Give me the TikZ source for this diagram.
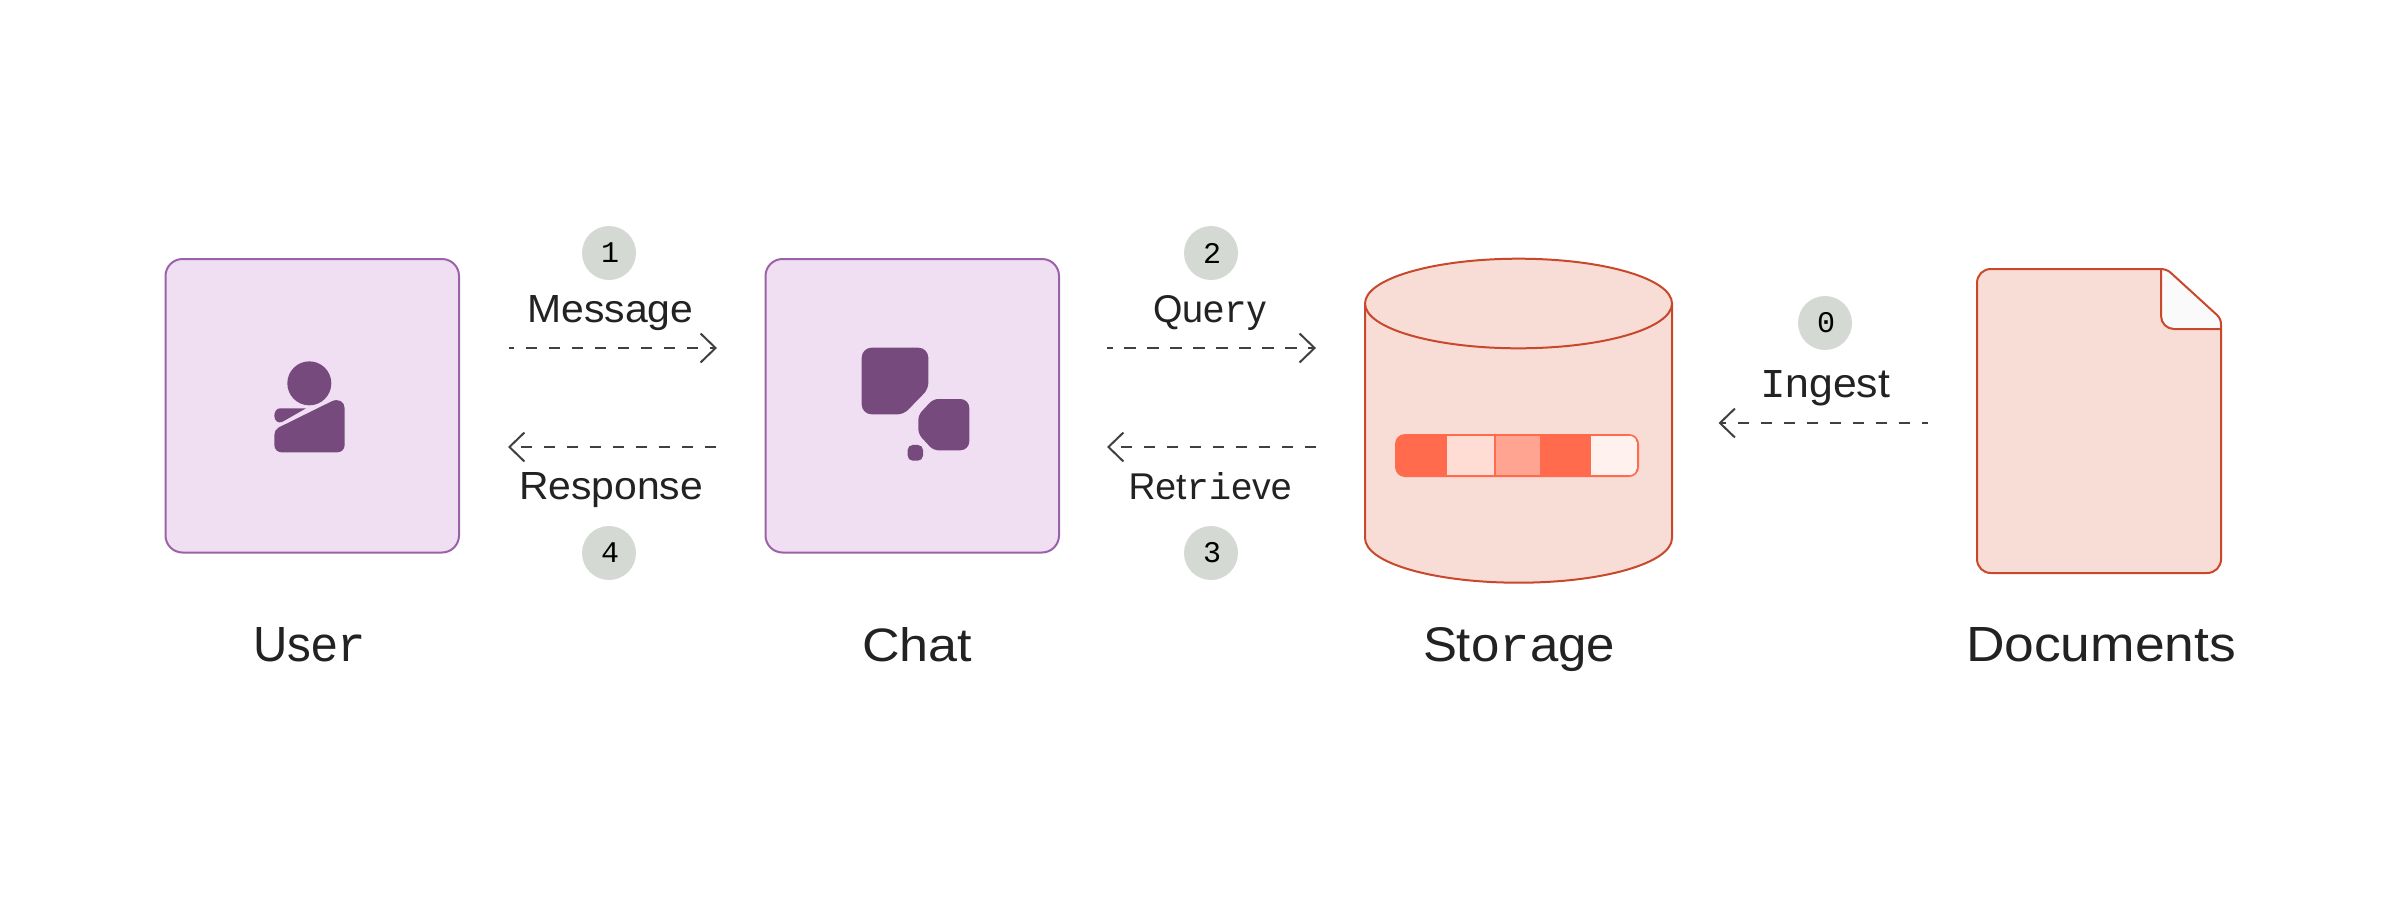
\documentclass[tikz,border=0pt]{standalone}
\usepackage{graphicx}
\usepackage{fontspec}
\setmainfont{Liberation Sans}
\newfontfamily\mn{Liberation Mono}
\usetikzlibrary{arrows.meta}
\definecolor{purplefill}{HTML}{F0DFF2}
\definecolor{purpleedge}{HTML}{9B62A8}
\definecolor{purpleicon}{HTML}{774A7E}
\definecolor{redfill}{HTML}{F7DDD6}
\definecolor{rededge}{HTML}{C9472B}
\definecolor{barhot}{HTML}{FF6B4C}
\definecolor{barlight}{HTML}{FFDCD4}
\definecolor{barmid}{HTML}{FFA491}
\definecolor{barpale}{HTML}{FFF1EE}
\definecolor{badgefill}{HTML}{D4D9D3}
\definecolor{inktext}{HTML}{222222}
\definecolor{flowline}{HTML}{404040}
\tikzset{
  panel/.style={draw=purpleedge,fill=purplefill,line width=2pt,rounded corners=17pt,minimum width=293.5pt,minimum height=293.5pt,inner sep=0pt,outer sep=0pt},
  ghost/.style={inner sep=0pt,outer sep=0pt},
  badge/.style={circle,fill=badgefill,minimum size=54pt,inner sep=0pt,outer sep=0pt,text=black,font=\mn\fontsize{30pt}{30pt}\selectfont},
  lab/.style={anchor=base,inner sep=0pt,outer sep=0pt,text=inktext,font=\fontsize{38pt}{38pt}\selectfont},
  biglab/.style={anchor=base,inner sep=0pt,outer sep=0pt,text=inktext,font=\fontsize{46pt}{46pt}\selectfont},
  flow/.style={draw=flowline,line width=2pt,dash pattern=on 11.5pt off 11.5pt,-{Straight Barb[length=15pt,width=29pt,line width=2pt]}},
  icon/.style={fill=purpleicon,draw=none},
}
\begin{document}
\begin{tikzpicture}[x=1pt,y=-1pt]
\useasboundingbox (0,0) rectangle (2400,900);
% nodes
\node[panel] (user) at (312.25,405.75) {};
\node[panel] (chat) at (912.25,405.75) {};
\node[ghost,minimum width=307pt,minimum height=324pt] (storage) at (1518.5,420.7) {};
\node[ghost,minimum width=244pt,minimum height=304pt] (docs) at (2099,421) {};
% user icon
\begin{scope}[shift={(230,340)},x=0.3333pt,y=-0.3333pt]
\fill[icon] (238,130) circle[radius=22pt];
\fill[icon] (145,263) -- (305,184) .. controls (325,174) and (344,185) .. (344,205) -- (344,315) .. controls (344,328) and (334,337) .. (322,337) -- (155,337) .. controls (143,337) and (133,328) .. (133,315) -- (133,285) .. controls (133,275) and (138,268) .. (145,263) -- cycle;
\fill[icon] (150,205) -- (228,205) -- (158,245) .. controls (145,252) and (133,243) .. (133,227) .. controls (133,215) and (140,205) .. (150,205) -- cycle;
\end{scope}
% chat icon
\begin{scope}[shift={(840,330)},x=0.3333pt,y=-0.3333pt]
\fill[icon,rounded corners=10pt] (65,53) -- (265,53) [rounded corners=6pt] -- (265,177) -- (191,253) [rounded corners=10pt] -- (65,253) -- cycle;
\fill[icon,rounded corners=5pt] (280,207) [rounded corners=9pt] -- (388,207) -- (388,361) [rounded corners=5pt] -- (280,361) -- (235,312) -- (235,255) -- cycle;
\fill[icon,rounded corners=5pt] (203,345) -- (249,345) -- (249,392) -- (203,392) -- cycle;
\end{scope}
% storage cylinder
\draw[rededge,fill=redfill,line width=2pt] (1365,303.5) -- (1365,538) .. controls (1365,563) and (1434,582.7) .. (1518.5,582.7) .. controls (1603,582.7) and (1672,563) .. (1672,538) -- (1672,303.5) -- cycle;
\draw[rededge,fill=redfill,line width=2pt] (1518.5,303.5) ellipse[x radius=153.5pt,y radius=44.8pt];
% storage bar
\fill[barhot,rounded corners=10pt] (1395,434) rectangle (1639,477);
\begin{scope}
\clip[rounded corners=8.5pt] (1396.8,435.7) rectangle (1637.2,475.3);
\fill[barlight] (1447,435.7) rectangle (1494,475.3);
\fill[barmid] (1495.8,435.7) rectangle (1540,475.3);
\fill[barpale] (1591,435.7) rectangle (1637.2,475.3);
\end{scope}
% document
\fill[redfill,rounded corners=14pt] (1977,269) -- (2167,269) -- (2221,319) -- (2221,573) -- (1977,573) -- cycle;
\begin{scope}
\clip (2150,269) -- (2167,269) -- (2221,319) -- (2221,335) -- (2150,335) -- cycle;
\fill[white!98!black,rounded corners=13pt] (2161,250) -- (2161,329) -- (2240,329) -- (2240,250) -- cycle;
\draw[rededge,line width=2pt,rounded corners=13pt] (2161,250) -- (2161,329) -- (2240,329);
\end{scope}
\draw[rededge,line width=2pt] (1991,269) -- (2160,269) .. controls (2164,269) and (2168,270) .. (2171,273) -- (2217,315) .. controls (2220,318) and (2221,321) .. (2221,325) -- (2221,559) .. controls (2221,567) and (2215,573) .. (2207,573) -- (1991,573) .. controls (1983,573) and (1977,567) .. (1977,559) -- (1977,283) .. controls (1977,275) and (1983,269) .. (1991,269) -- cycle;
% connectors
\draw[flow,dash phase=5.8pt,shorten <=49.5pt,shorten >=48.5pt] ([yshift=57.75pt]user.east) -- ([yshift=57.75pt]chat.west);
\draw[flow,shorten <=49.5pt,shorten >=49pt] ([yshift=-41.25pt]chat.west) -- ([yshift=-41.25pt]user.east);
\draw[flow,dash phase=5.8pt,shorten <=48pt,shorten >=49pt] ([yshift=57.75pt]chat.east) -- ([yshift=72.7pt]storage.west);
\draw[flow,shorten <=49pt,shorten >=48pt] ([yshift=-26.3pt]storage.west) -- ([yshift=-41.25pt]chat.east);
\draw[flow,dash phase=5.8pt,shorten <=49.5pt,shorten >=46.5pt] ([yshift=-2pt]docs.west) -- ([yshift=-2.3pt]storage.east);
% badges
\node[badge] (b1) at (609,253) {\kern2pt 1};
\node[badge] (b2) at (1211,253) {\kern2pt 2};
\node[badge] (b3) at (1211,553) {\kern2pt 3};
\node[badge] (b4) at (609,553) {\kern2pt 4};
\node[badge] (b0) at (1825,323) {\kern2pt 0};
% labels
\node[lab] (lmsg) at (610.5,322) {\resizebox{166pt}{27pt}{Message}};
\node[lab] (lres) at (611,499.5) {\resizebox{184pt}{27pt}{Response}};
\node[lab] (lqry) at (1210,322) {\resizebox{113pt}{27pt}{Que{\mn r}y}};
\node[lab] (lret) at (1210,499.5) {\resizebox{163pt}{27pt}{Ret{\mn ri}eve}};
\node[lab] (ling) at (1825,397.7) {\resizebox{130pt}{27pt}{{\mn I}ngest}};
\node[biglab] (tuser) at (309.5,661.7) {\resizebox{113pt}{34pt}{Use{\mn r}}};
\node[biglab] (tchat) at (917,661.7) {\resizebox{110pt}{34pt}{Chat}};
\node[biglab] (tstor) at (1519,661.7) {\resizebox{192pt}{34pt}{Sto{\mn r}age}};
\node[biglab] (tdocs) at (2101,661.7) {\resizebox{270pt}{34pt}{Documents}};
\end{tikzpicture}
\end{document}
